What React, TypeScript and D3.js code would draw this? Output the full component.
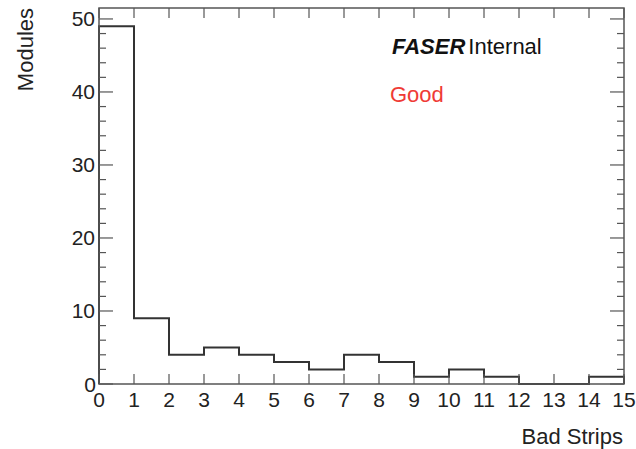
import * as d3 from "d3";
import { useEffect, useRef } from "react";

// bin edges 0..15, one count per bin
const binStarts = d3.range(0, 15);
const counts = [49, 9, 4, 5, 4, 3, 2, 4, 3, 1, 2, 1, 0, 0, 1];
const xTicks = d3.range(0, 16);
const yTicks = [0, 10, 20, 30, 40, 50];
const yMinorTicks = d3.range(0, 52, 2);

export default function App() {
  const svgRef = useRef<SVGSVGElement>(null);

  useEffect(() => {
    if (!svgRef.current) return;
    const svg = d3.select(svgRef.current);
    svg.selectAll("*").remove();

    const left = 99, right = 624, top = 8, bottom = 384;
    const x = d3.scaleLinear().domain([0, 15]).range([left, right]);
    const y = d3.scaleLinear().domain([0, 51.5]).range([bottom, top]);
    const font = "'Liberation Sans', Arial, sans-serif";
    const axisColor = "#555";

    // histogram outline
    const pts: [number, number][] = [];
    binStarts.forEach((b, i) => {
      pts.push([b, counts[i]]);
      pts.push([b + 1, counts[i]]);
    });
    pts.unshift([0, 0]);
    pts.push([15, 0]);
    const line = d3.line<[number, number]>().x(d => x(d[0])).y(d => y(d[1]));
    svg.append("path")
      .attr("d", line(pts))
      .attr("fill", "none")
      .attr("stroke", "#333")
      .attr("stroke-width", 2);

    // frame
    svg.append("rect")
      .attr("x", left).attr("y", top)
      .attr("width", right - left).attr("height", bottom - top)
      .attr("fill", "none").attr("stroke", axisColor).attr("stroke-width", 1.5);

    const g = svg.append("g").attr("stroke", axisColor).attr("stroke-width", 1.2);
    // x ticks bottom and top
    xTicks.forEach(t => {
      g.append("line").attr("x1", x(t)).attr("x2", x(t)).attr("y1", bottom).attr("y2", bottom - 10);
      g.append("line").attr("x1", x(t)).attr("x2", x(t)).attr("y1", top).attr("y2", top + 10);
    });
    // y ticks left and right
    yMinorTicks.forEach(t => {
      const len = t % 10 === 0 ? 14 : 7;
      g.append("line").attr("x1", left).attr("x2", left + len).attr("y1", y(t)).attr("y2", y(t));
      g.append("line").attr("x1", right).attr("x2", right - len).attr("y1", y(t)).attr("y2", y(t));
    });

    // tick labels
    svg.append("g").selectAll("text").data(xTicks).join("text")
      .attr("x", d => x(d)).attr("y", 407)
      .attr("text-anchor", "middle")
      .attr("font-family", font).attr("font-size", 21).attr("fill", "#222")
      .text(d => d);
    svg.append("g").selectAll("text").data(yTicks).join("text")
      .attr("x", d => (d === 0 ? 96 : 95)).attr("y", d => y(d) + 7.5)
      .attr("text-anchor", "end")
      .attr("font-family", font).attr("font-size", 21).attr("fill", "#222")
      .text(d => d);

    // axis titles
    svg.append("text")
      .attr("transform", "translate(33,8) rotate(-90)")
      .attr("text-anchor", "end")
      .attr("font-family", font).attr("font-size", 22).attr("fill", "#222")
      .text("Modules");
    svg.append("text")
      .attr("x", 623).attr("y", 444)
      .attr("text-anchor", "end")
      .attr("font-family", font).attr("font-size", 22).attr("fill", "#222")
      .text("Bad Strips");

    // labels
    const lab = svg.append("text")
      .attr("x", 392).attr("y", 54)
      .attr("font-family", font).attr("font-size", 22).attr("fill", "#111");
    lab.append("tspan").attr("font-weight", "bold").attr("font-style", "italic").text("FASER");
    lab.append("tspan").attr("dx", 3).text("Internal");
    svg.append("text")
      .attr("x", 390).attr("y", 102)
      .attr("font-family", font).attr("font-size", 22).attr("fill", "#ef3b36")
      .text("Good");
  }, []);

  return (
    <svg ref={svgRef} width={636} height={449}
      style={{ position: "absolute", left: 0, top: 0, background: "#fff" }} />
  );
}
